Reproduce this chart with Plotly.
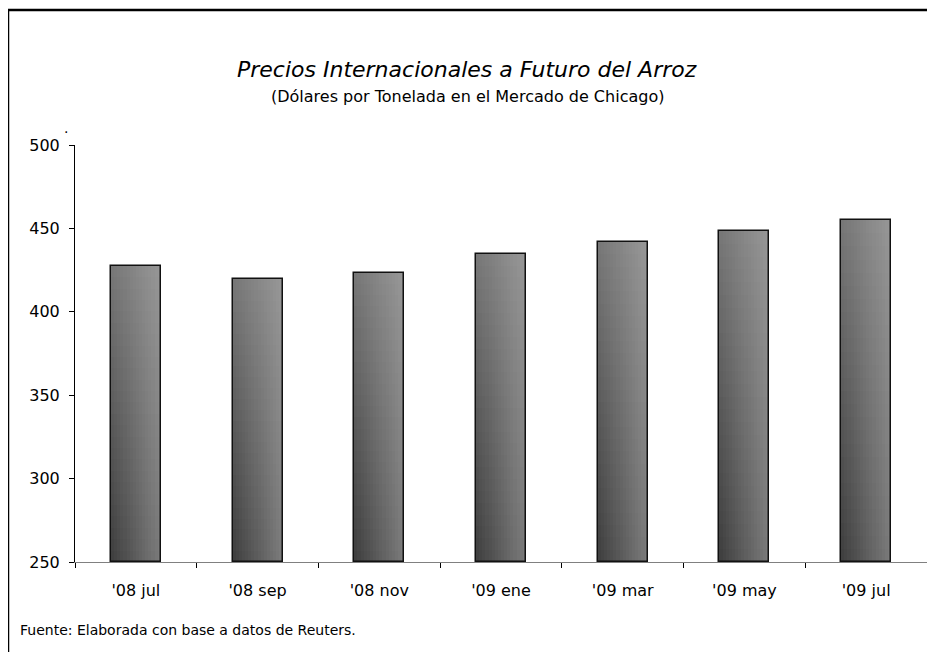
import plotly.graph_objects as go

categories = ["'08 jul", "'08 sep", "'08 nov", "'09 ene", "'09 mar", "'09 may", "'09 jul"]
prices = [427.6, 419.5, 423.4, 434.8, 441.8, 448.3, 455.0]
y_ticks = [250, 300, 350, 400, 450, 500]

title_text = "Precios Internacionales a Futuro del Arroz"
subtitle_text = "(Dólares por Tonelada en el Mercado de Chicago)"
source_text = "Fuente: Elaborada con base a datos de Reuters."

BASE = 250
BAR_W = 0.41
NCOL, NROW = 16, 26
FONT = "DejaVu Sans"

def shade(u, v):
    L = 64 + 58 * u + 55 * v - 27 * u * v
    L = int(max(0, min(255, round(L))))
    return f"rgb({L},{L},{L})"

fig = go.Figure()
# gradient fill built from overlapping bar segments
for i in range(NROW):
    v = i / (NROW - 1)
    bases = [BASE + (p - BASE) * i / NROW for p in prices]
    heights = [p - b for p, b in zip(prices, bases)]
    for j in range(NCOL):
        u = j / (NCOL - 1)
        fig.add_trace(go.Bar(
            x=categories, y=heights, base=bases,
            width=BAR_W * (NCOL - j) / NCOL,
            offset=-BAR_W / 2 + BAR_W * j / NCOL,
            marker=dict(color=shade(u, v), line=dict(width=0)),
            hoverinfo="skip", showlegend=False,
        ))
# outline
fig.add_trace(go.Bar(
    x=categories, y=[p - BASE for p in prices], base=[BASE] * len(prices),
    width=BAR_W, offset=-BAR_W / 2,
    marker=dict(color="rgba(0,0,0,0)", line=dict(color="#111111", width=1.5)),
    showlegend=False, hovertemplate="%{x}: %{y}<extra></extra>",
))

# page body has an 8px margin; work in viewport pixels and shift
PAGE = 8
VW, VH = 935, 652
W, H = VW - PAGE, VH - PAGE
PL, PR, PT, PB = 75, 927, 145, 562  # plot area in viewport px
L_M, R_M = PL - PAGE, W - (PR - PAGE)
T_M, B_M = PT - PAGE, H - (PB - PAGE)
pw, ph = PR - PL, PB - PT
def px_x(x):
    return (x - PL) / pw
def px_y(y):
    return (PB - y) / ph

fig.update_layout(
    width=W, height=H,
    margin=dict(l=L_M, r=R_M, t=T_M, b=B_M),
    paper_bgcolor="white", plot_bgcolor="white",
    barmode="overlay",
    bargap=0,
    font=dict(family=FONT, color="black"),
    xaxis=dict(
        type="category", categoryorder="array", categoryarray=categories,
        showline=True, linecolor="#808080", linewidth=1,
        ticks="outside", tickson="boundaries", ticklen=5, tickcolor="#000000",
        tickfont=dict(size=16, family=FONT), ticklabelstandoff=14,
        showgrid=False, zeroline=False, fixedrange=True,
    ),
    yaxis=dict(
        range=[BASE, 500], tickvals=y_ticks,
        showline=True, linecolor="#000000", linewidth=1,
        ticks="outside", ticklen=5, tickcolor="#000000",
        tickfont=dict(size=16, family=FONT), ticklabelstandoff=6,
        showgrid=False, zeroline=False, fixedrange=True,
    ),
    annotations=[
        dict(text=title_text, xref="paper", yref="paper", x=px_x(467), y=px_y(69),
             xanchor="center", yanchor="middle", showarrow=False,
             font=dict(size=22, family=FONT, style="italic")),
        dict(text=subtitle_text, xref="paper", yref="paper", x=px_x(467), y=px_y(96),
             xanchor="center", yanchor="middle", showarrow=False,
             font=dict(size=16, family=FONT)),
        dict(text=source_text, xref="paper", yref="paper", x=px_x(18), y=px_y(630),
             xanchor="left", yanchor="middle", showarrow=False,
             font=dict(size=14, family=FONT)),
        dict(text=".", xref="paper", yref="paper", x=px_x(66), y=px_y(128),
             xanchor="center", yanchor="middle", showarrow=False,
             font=dict(size=14, family=FONT)),
    ],
    shapes=[
        dict(type="line", xref="paper", yref="paper", x0=px_x(7), x1=px_x(940),
             y0=px_y(10), y1=px_y(10), line=dict(color="black", width=2.5)),
        dict(type="line", xref="paper", yref="paper", x0=px_x(8), x1=px_x(8),
             y0=px_y(9), y1=px_y(660), line=dict(color="black", width=2.5)),
    ],
)

fig.write_html("out.html")
